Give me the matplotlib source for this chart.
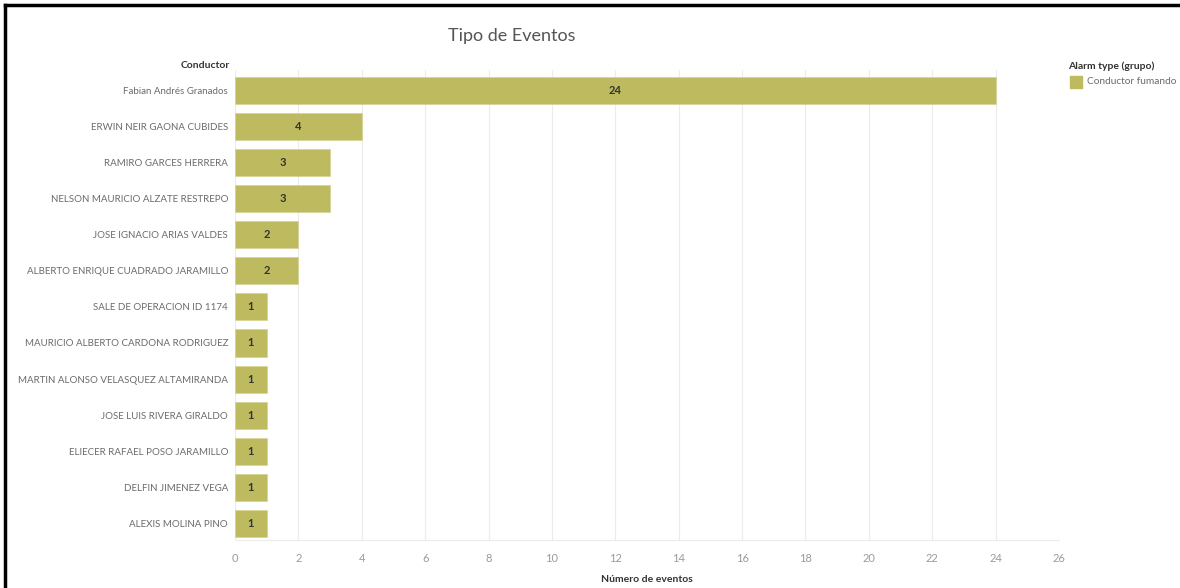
import matplotlib
matplotlib.use("Agg")
import matplotlib.pyplot as plt
from matplotlib.lines import Line2D
from matplotlib.patches import Rectangle

plt.rcParams["font.family"] = ["Lato", "DejaVu Sans"]

# datos
conductores = [
    "Fabian Andrés Granados",
    "ERWIN NEIR GAONA CUBIDES",
    "RAMIRO GARCES HERRERA",
    "NELSON MAURICIO ALZATE RESTREPO",
    "JOSE IGNACIO ARIAS VALDES",
    "ALBERTO ENRIQUE CUADRADO JARAMILLO",
    "SALE DE OPERACION ID 1174",
    "MAURICIO ALBERTO CARDONA RODRIGUEZ",
    "MARTIN ALONSO VELASQUEZ ALTAMIRANDA",
    "JOSE LUIS RIVERA GIRALDO",
    "ELIECER RAFAEL POSO JARAMILLO",
    "DELFIN JIMENEZ VEGA",
    "ALEXIS MOLINA PINO",
]
eventos = [24, 4, 3, 3, 2, 2, 1, 1, 1, 1, 1, 1, 1]
x_ticks = list(range(0, 27, 2))

BAR = "#bdba5f"
W, H = 1180, 588

fig = plt.figure(figsize=(W / 100, H / 100), dpi=100)
ax = fig.add_axes([235 / W, 1 - 540 / H, (1059 - 235) / W, (540 - 70) / H])

y = list(range(len(conductores)))
ax.barh(y, eventos, height=0.75, color=BAR, edgecolor="#d6d49a", linewidth=0.6, zorder=2)
for yi, v in zip(y, eventos):
    ax.text(v / 2, yi, str(v), ha="center", va="center", fontsize=8,
            fontweight="bold", color="#333333", zorder=3)

ax.set_ylim(12.47, -0.58)
ax.set_xlim(0, 26)
ax.set_xticks(x_ticks)
ax.set_xticklabels([str(t) for t in x_ticks], color="#9a9a9a", fontsize=8)
ax.set_yticks(y)
ax.set_yticklabels(conductores, color="#6b6b6b", fontsize=7.0)
ax.tick_params(axis="both", length=0)
ax.tick_params(axis="y", pad=5)
ax.tick_params(axis="x", pad=9)
ax.grid(axis="x", color="#ececec", linewidth=0.8, zorder=0)
for s in ["top", "right", "left"]:
    ax.spines[s].set_visible(False)
ax.spines["bottom"].set_color("#ececec")

ax.set_xlabel("Número de eventos", fontsize=7.5, fontweight="bold", color="#333333", labelpad=8)

fig.text(512 / W, 1 - 36 / H, "Tipo de Eventos", ha="center", va="center",
         fontsize=13, color="#555555")
fig.text(230 / W, 1 - 66 / H, "Conductor", ha="right", va="center",
         fontsize=7.5, fontweight="bold", color="#333333")

# leyenda
fig.text(1068 / W, 1 - 66 / H, "Alarm type (grupo)", ha="left", va="center",
         fontsize=7.5, fontweight="bold", color="#333333")
fig.patches.append(Rectangle((1070 / W, 1 - 88 / H), 12 / W, 12 / H,
                             transform=fig.transFigure, color=BAR, figure=fig))
fig.text(1087 / W, 1 - 82 / H, "Conductor fumando", ha="left", va="center",
         fontsize=7.3, color="#6b6b6b")

# marco negro de la captura
fig.add_artist(Line2D([5 / W, 1], [1 - 5 / H, 1 - 5 / H], color="black", linewidth=2.5,
                      transform=fig.transFigure))
fig.add_artist(Line2D([5 / W, 5 / W], [0, 1 - 5 / H], color="black", linewidth=2.5,
                      transform=fig.transFigure))

fig.savefig("out.png", dpi=100)
